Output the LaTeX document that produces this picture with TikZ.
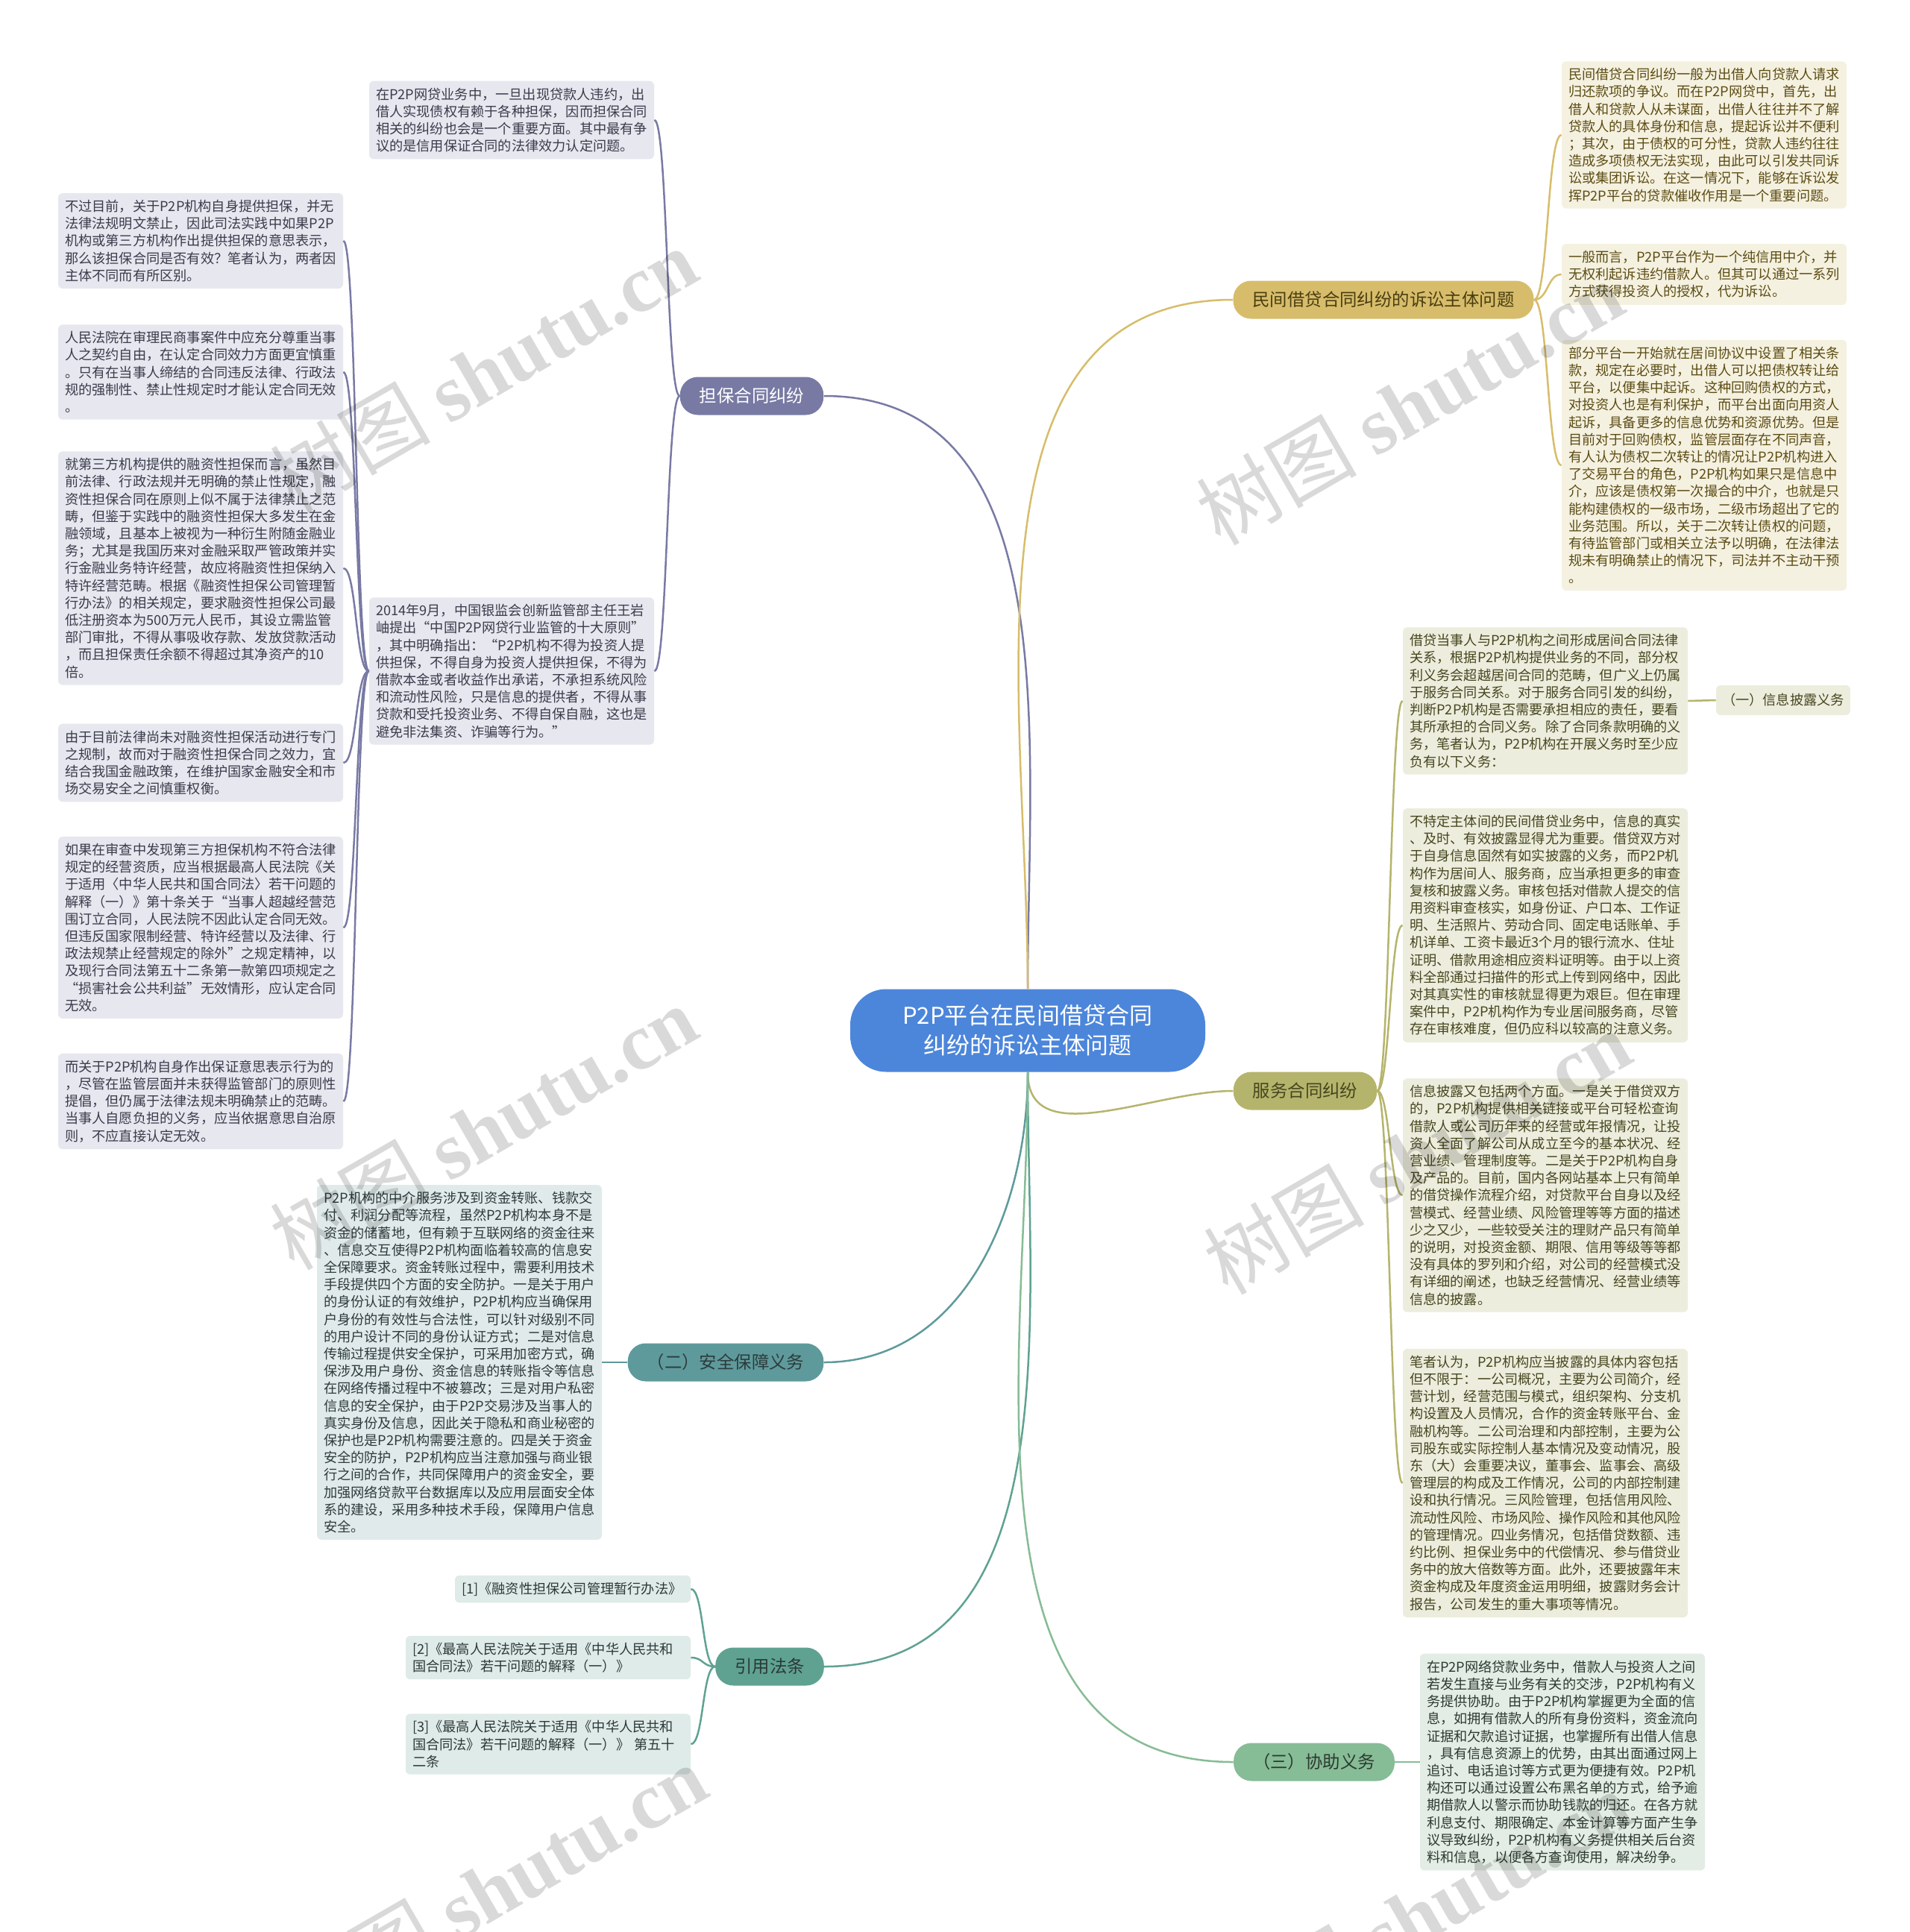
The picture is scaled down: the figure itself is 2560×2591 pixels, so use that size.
\documentclass[tikz,border=0pt]{standalone}
\usepackage{fontspec}
\setmainfont{Noto Sans CJK SC}
\newfontfamily\wmlat{Liberation Serif}
\definecolor{rootc}{HTML}{4C86DB}
\definecolor{danc}{HTML}{787AA4}
\definecolor{danl}{HTML}{E7E7EF}
\definecolor{dant}{HTML}{3B3B4C}
\definecolor{minc}{HTML}{D7BD6B}
\definecolor{minl}{HTML}{F5F1E0}
\definecolor{mint}{HTML}{5C4C14}
\definecolor{fuc}{HTML}{B5B46C}
\definecolor{ful}{HTML}{EDEDDE}
\definecolor{fut}{HTML}{46461F}
\definecolor{anc}{HTML}{5E9A9C}
\definecolor{anl}{HTML}{E1EAEB}
\definecolor{ant}{HTML}{2D3B3C}
\definecolor{yinc}{HTML}{5FA292}
\definecolor{yinl}{HTML}{DFEBE8}
\definecolor{yint}{HTML}{2C3A37}
\definecolor{xiec}{HTML}{86BC96}
\definecolor{xiel}{HTML}{E3EDE5}
\definecolor{xiet}{HTML}{2C3A2F}
\newcommand{\leaffont}{\fontsize{9.1}{11.6}\selectfont}
\tikzset{
  root/.style={fill=rootc,text=white,rounded corners=24pt,minimum width=238pt,minimum height=55.5pt,align=center,font=\fontsize{15.5}{20}\selectfont},
  br/.style={rounded corners=12pt,minimum height=25.5pt,inner xsep=13pt,font=\fontsize{11.7}{14}\selectfont},
  leaf/.style={rounded corners=3pt,align=left,text width=182pt,inner xsep=4.5pt,inner ysep=4.5pt,font=\leaffont},
  dbr/.style={br,fill=danc,text=white},
  dleaf/.style={leaf,fill=danl,text=dant},
  mbr/.style={br,fill=minc,text=mint!80!black},
  mleaf/.style={leaf,fill=minl,text=mint},
  fbr/.style={br,fill=fuc,text=fut},
  fleaf/.style={leaf,fill=ful,text=fut},
  abr/.style={br,fill=anc,text=ant},
  aleaf/.style={leaf,fill=anl,text=ant},
  ybr/.style={br,fill=yinc,text=yint},
  yleaf/.style={leaf,fill=yinl,text=yint},
  xbr/.style={br,fill=xiec,text=xiet},
  xleaf/.style={leaf,fill=xiel,text=xiet},
  ln/.style={line width=1.25pt},
  wm/.style={rotate=30,text=black,opacity=.15,font=\fontsize{54}{60}\selectfont},
}
\begin{document}
\begin{tikzpicture}[x=0.5pt,y=-0.5pt]
\fill[white] (0,0) rectangle (2560,2591);
\useasboundingbox (0,0) rectangle (2560,2591);

\node[root] (root) at (1378,1382) {P2P平台在民间借贷合同\\纠纷的诉讼主体问题};

\node[dbr] (dan) at (1008,531) {担保合同纠纷};
\node[mbr] (min) at (1855,402) {民间借贷合同纠纷的诉讼主体问题};
\node[fbr] (fuwu) at (1750,1463) {服务合同纠纷};
\node[abr] (anq) at (973,1827) {（二）安全保障义务};
\node[ybr] (yin) at (1032,2235) {引用法条};
\node[xbr] (xie) at (1762,2363) {（三）协助义务};

\node[dleaf] (dan1) at (686,161) {在P2P网贷业务中，一旦出现贷款人违约，出\\借人实现债权有赖于各种担保，因而担保合同\\相关的纠纷也会是一个重要方面。其中最有争\\议的是信用保证合同的法律效力认定问题。};
\node[dleaf] (dan2) at (686,900) {2014年9月，中国银监会创新监管部主任王岩\\岫提出“中国P2P网贷行业监管的十大原则”\\，其中明确指出：“P2P机构不得为投资人提\\供担保，不得自身为投资人提供担保，不得为\\借款本金或者收益作出承诺，不承担系统风险\\和流动性风险，只是信息的提供者，不得从事\\贷款和受托投资业务、不得自保自融，这也是\\避免非法集资、诈骗等行为。”};
\node[dleaf] (d1) at (269,323) {不过目前，关于P2P机构自身提供担保，并无\\法律法规明文禁止，因此司法实践中如果P2P\\机构或第三方机构作出提供担保的意思表示，\\那么该担保合同是否有效？笔者认为，两者因\\主体不同而有所区别。};
\node[dleaf] (d2) at (269,499) {人民法院在审理民商事案件中应充分尊重当事\\人之契约自由，在认定合同效力方面更宜慎重\\。只有在当事人缔结的合同违反法律、行政法\\规的强制性、禁止性规定时才能认定合同无效\\。};
\node[dleaf] (d3) at (269,762) {就第三方机构提供的融资性担保而言，虽然目\\前法律、行政法规并无明确的禁止性规定，融\\资性担保合同在原则上似不属于法律禁止之范\\畴，但鉴于实践中的融资性担保大多发生在金\\融领域，且基本上被视为一种衍生附随金融业\\务；尤其是我国历来对金融采取严管政策并实\\行金融业务特许经营，故应将融资性担保纳入\\特许经营范畴。根据《融资性担保公司管理暂\\行办法》的相关规定，要求融资性担保公司最\\低注册资本为500万元人民币，其设立需监管\\部门审批，不得从事吸收存款、发放贷款活动\\，而且担保责任余额不得超过其净资产的10\\倍。};
\node[dleaf] (d4) at (269,1023) {由于目前法律尚未对融资性担保活动进行专门\\之规制，故而对于融资性担保合同之效力，宜\\结合我国金融政策，在维护国家金融安全和市\\场交易安全之间慎重权衡。};
\node[dleaf] (d5) at (269,1244) {如果在审查中发现第三方担保机构不符合法律\\规定的经营资质，应当根据最高人民法院《关\\于适用〈中华人民共和国合同法〉若干问题的\\解释（一）》第十条关于“当事人超越经营范\\围订立合同，人民法院不因此认定合同无效。\\但违反国家限制经营、特许经营以及法律、行\\政法规禁止经营规定的除外”之规定精神，以\\及现行合同法第五十二条第一款第四项规定之\\“损害社会公共利益”无效情形，应认定合同\\无效。};
\node[dleaf] (d6) at (269,1477) {而关于P2P机构自身作出保证意思表示行为的\\，尽管在监管层面并未获得监管部门的原则性\\提倡，但仍属于法律法规未明确禁止的范畴。\\当事人自愿负担的义务，应当依据意思自治原\\则，不应直接认定无效。};

\node[mleaf] (min1) at (2285,181) {民间借贷合同纠纷一般为出借人向贷款人请求\\归还款项的争议。而在P2P网贷中，首先，出\\借人和贷款人从未谋面，出借人往往并不了解\\贷款人的具体身份和信息，提起诉讼并不便利\\；其次，由于债权的可分性，贷款人违约往往\\造成多项债权无法实现，由此可以引发共同诉\\讼或集团诉讼。在这一情况下，能够在诉讼发\\挥P2P平台的贷款催收作用是一个重要问题。};
\node[mleaf] (min2) at (2285,368) {一般而言，P2P平台作为一个纯信用中介，并\\无权利起诉违约借款人。但其可以通过一系列\\方式获得投资人的授权，代为诉讼。};
\node[mleaf] (min3) at (2285,624) {部分平台一开始就在居间协议中设置了相关条\\款，规定在必要时，出借人可以把债权转让给\\平台，以便集中起诉。这种回购债权的方式，\\对投资人也是有利保护，而平台出面向用资人\\起诉，具备更多的信息优势和资源优势。但是\\目前对于回购债权，监管层面存在不同声音，\\有人认为债权二次转让的情况让P2P机构进入\\了交易平台的角色，P2P机构如果只是信息中\\介，应该是债权第一次撮合的中介，也就是只\\能构建债权的一级市场，二级市场超出了它的\\业务范围。所以，关于二次转让债权的问题，\\有待监管部门或相关立法予以明确，在法律法\\规未有明确禁止的情况下，司法并不主动干预\\。};

\node[fleaf] (fw1) at (2072,940) {借贷当事人与P2P机构之间形成居间合同法律\\关系，根据P2P机构提供业务的不同，部分权\\利义务会超越居间合同的范畴，但广义上仍属\\于服务合同关系。对于服务合同引发的纠纷，\\判断P2P机构是否需要承担相应的责任，要看\\其所承担的合同义务。除了合同条款明确的义\\务，笔者认为，P2P机构在开展义务时至少应\\负有以下义务：};
\node[fleaf,text width=,inner xsep=4pt,minimum height=20pt] (xinxi) at (2391,939) {（一）信息披露义务};
\node[fleaf] (fw2) at (2072,1241) {不特定主体间的民间借贷业务中，信息的真实\\、及时、有效披露显得尤为重要。借贷双方对\\于自身信息固然有如实披露的义务，而P2P机\\构作为居间人、服务商，应当承担更多的审查\\复核和披露义务。审核包括对借款人提交的信\\用资料审查核实，如身份证、户口本、工作证\\明、生活照片、劳动合同、固定电话账单、手\\机详单、工资卡最近3个月的银行流水、住址\\证明、借款用途相应资料证明等。由于以上资\\料全部通过扫描件的形式上传到网络中，因此\\对其真实性的审核就显得更为艰巨。但在审理\\案件中，P2P机构作为专业居间服务商，尽管\\存在审核难度，但仍应科以较高的注意义务。};
\node[fleaf] (fw3) at (2072,1603) {信息披露又包括两个方面。一是关于借贷双方\\的，P2P机构提供相关链接或平台可轻松查询\\借款人或公司历年来的经营或年报情况，让投\\资人全面了解公司从成立至今的基本状况、经\\营业绩、管理制度等。二是关于P2P机构自身\\及产品的。目前，国内各网站基本上只有简单\\的借贷操作流程介绍，对贷款平台自身以及经\\营模式、经营业绩、风险管理等等方面的描述\\少之又少，一些较受关注的理财产品只有简单\\的说明，对投资金额、期限、信用等级等等都\\没有具体的罗列和介绍，对公司的经营模式没\\有详细的阐述，也缺乏经营情况、经营业绩等\\信息的披露。};
\node[fleaf] (fw4) at (2072,1989) {笔者认为，P2P机构应当披露的具体内容包括\\但不限于：一公司概况，主要为公司简介，经\\营计划，经营范围与模式，组织架构、分支机\\构设置及人员情况，合作的资金转账平台、金\\融机构等。二公司治理和内部控制，主要为公\\司股东或实际控制人基本情况及变动情况，股\\东（大）会重要决议，董事会、监事会、高级\\管理层的构成及工作情况，公司的内部控制建\\设和执行情况。三风险管理，包括信用风险、\\流动性风险、市场风险、操作风险和其他风险\\的管理情况。四业务情况，包括借贷数额、违\\约比例、担保业务中的代偿情况、参与借贷业\\务中的放大倍数等方面。此外，还要披露年末\\资金构成及年度资金运用明细，披露财务会计\\报告，公司发生的重大事项等情况。};

\node[xleaf] (xie1) at (2095,2363) {在P2P网络贷款业务中，借款人与投资人之间\\若发生直接与业务有关的交涉，P2P机构有义\\务提供协助。由于P2P机构掌握更为全面的信\\息，如拥有借款人的所有身份资料，资金流向\\证据和欠款追讨证据，也掌握所有出借人信息\\，具有信息资源上的优势，由其出面通过网上\\追讨、电话追讨等方式更为便捷有效。P2P机\\构还可以通过设置公布黑名单的方式，给予逾\\期借款人以警示而协助钱款的归还。在各方就\\利息支付、期限确定、本金计算等方面产生争\\议导致纠纷，P2P机构有义务提供相关后台资\\料和信息，以便各方查询使用，解决纷争。};

\node[aleaf] (anq1) at (616,1827) {P2P机构的中介服务涉及到资金转账、钱款交\\付、利润分配等流程，虽然P2P机构本身不是\\资金的储蓄地，但有赖于互联网络的资金往来\\、信息交互使得P2P机构面临着较高的信息安\\全保障要求。资金转账过程中，需要利用技术\\手段提供四个方面的安全防护。一是关于用户\\的身份认证的有效维护，P2P机构应当确保用\\户身份的有效性与合法性，可以针对级别不同\\的用户设计不同的身份认证方式；二是对信息\\传输过程提供安全保护，可采用加密方式，确\\保涉及用户身份、资金信息的转账指令等信息\\在网络传播过程中不被篡改；三是对用户私密\\信息的安全保护，由于P2P交易涉及当事人的\\真实身份及信息，因此关于隐私和商业秘密的\\保护也是P2P机构需要注意的。四是关于资金\\安全的防护，P2P机构应当注意加强与商业银\\行之间的合作，共同保障用户的资金安全，要\\加强网络贷款平台数据库以及应用层面安全体\\系的建设，采用多种技术手段，保障用户信息\\安全。};

\node[yleaf,text width=149pt] (yin1) at (768,2131) {[1]《融资性担保公司管理暂行办法》};
\node[yleaf] (yin2) at (735,2223) {[2]《最高人民法院关于适用《中华人民共和\\国合同法》若干问题的解释（一）》};
\node[yleaf] (yin3) at (735,2339) {[3]《最高人民法院关于适用《中华人民共和\\国合同法》若干问题的解释（一）》 第五十\\二条};

\draw[ln,danc] (root.north) to[out=90,in=0] (dan.east);
\draw[ln,minc] (root.north) to[out=90,in=180] (min.west);
\draw[ln,fuc] (root.south) to[out=-90,in=180] (fuwu.west);
\draw[ln,anc] (root.south) to[out=-90,in=0] (anq.east);
\draw[ln,yinc] (root.south) to[out=-90,in=0] (yin.east);
\draw[ln,xiec] (root.south) to[out=-90,in=180] (xie.west);

\foreach \n in {dan1,dan2}
  \draw[ln,danc] (dan.west) .. controls +(-18,0) and +(18,0) .. (\n.east);
\foreach \n in {d1,d2,d3,d4,d5,d6}
  \draw[ln,danc] (dan2.west) .. controls +(-18,0) and +(18,0) .. (\n.east);
\foreach \n in {min1,min2,min3}
  \draw[ln,minc] (min.east) .. controls +(19,0) and +(-19,0) .. (\n.west);
\foreach \n in {fw1,fw2,fw3,fw4}
  \draw[ln,fuc] (fuwu.east) .. controls +(17,0) and +(-17,0) .. (\n.west);
\draw[ln,fuc] (fw1.east) -- (xinxi.west);
\draw[ln,anc] (anq.west) -- (anq1.east);
\foreach \n in {yin1,yin2,yin3}
  \draw[ln,yinc] (yin.west) .. controls +(-17,0) and +(17,0) .. (\n.east);
\draw[ln,xiec] (xie.east) -- (xie1.west);

\foreach \p in {(648,496),(1890,540),(648,1512),(1900,1545),(661,2530),(1900,2565)}
  \node[wm] at \p {树图 {\wmlat\bfseries shutu.cn}};
\end{tikzpicture}
\end{document}
